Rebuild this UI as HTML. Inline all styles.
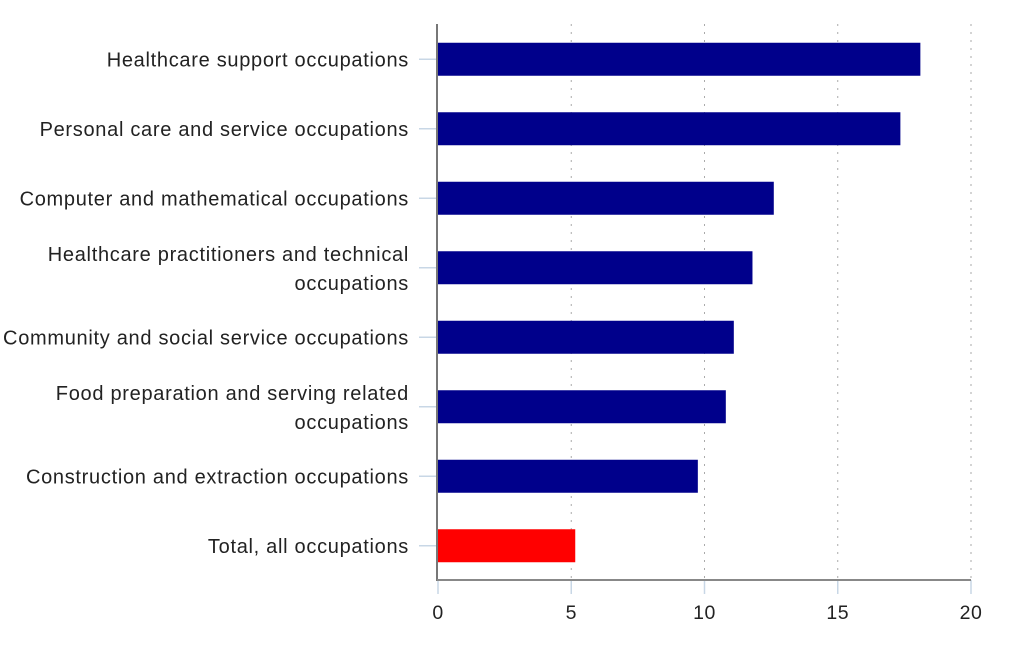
<!DOCTYPE html>
<html><head><meta charset="utf-8"><style>
body{margin:0;background:#fff;}
svg{display:block;font-family:"Liberation Sans",sans-serif;}
</style></head><body>
<svg id="chart" width="1028" height="657" xmlns="http://www.w3.org/2000/svg"></svg>
<script>
const categories=[["Healthcare support occupations"],["Personal care and service occupations"],["Computer and mathematical occupations"],["Healthcare practitioners and technical","occupations"],["Community and social service occupations"],["Food preparation and serving related","occupations"],["Construction and extraction occupations"],["Total, all occupations"]];
const values=[18.1,17.35,12.6,11.8,11.1,10.8,9.75,5.15];
const barColors=["#00008b","#00008b","#00008b","#00008b","#00008b","#00008b","#00008b","#ff0000"];
const ticks=[0,5,10,15,20];
const NS="http://www.w3.org/2000/svg";
const svg=document.getElementById('chart');
const x0=438,x1=971,yTop=24,yBot=580,band=(yBot-yTop)/categories.length;
const xs=v=>x0+(x1-x0)*v/20;
function mk(t,a,p){const e=document.createElementNS(NS,t);for(const k in a)e.setAttribute(k,a[k]);(p||svg).appendChild(e);return e;}
ticks.forEach(t=>{
 if(t>0){const g=mk('line',{x1:xs(t),x2:xs(t),y1:yTop,y2:yBot,stroke:'#aaa','stroke-dasharray':'2,6'});
 
 }
 const tk=mk('line',{x1:xs(t),x2:xs(t),y1:yBot,y2:yBot+14,stroke:'#c8d7e6','stroke-width':1.5});
 
 
 const l=mk('text',{x:xs(t),y:619,'text-anchor':'middle','font-size':19.5,fill:'#222','letter-spacing':'0.5'});l.textContent=t;
 
 
});
categories.forEach((c,i)=>{
 const cy=yTop+band*(i+0.5)+0.5;
 const tk=mk('line',{x1:419,x2:436,y1:cy,y2:cy,stroke:'#c8d7e6','stroke-width':1.5});
 
 
 const r=mk('rect',{x:x0,y:cy-16.5,width:xs(values[i])-x0,height:33,fill:barColors[i]});
 
 
 const t=mk('text',{x:409,'text-anchor':'end','font-size':20,fill:'#222','letter-spacing':'0.7'});
 
 
 const y0=c.length>1?cy-7:cy+7;
 c.forEach((s,j)=>{const ts=mk('tspan',{x:409,y:y0+j*29},t);ts.textContent=s;});
});
const ya=mk('line',{x1:437,x2:437,y1:yTop,y2:yBot+1,stroke:'#777','stroke-width':2});


const xa=mk('line',{x1:437,x2:x1,y1:yBot,y2:yBot,stroke:'#888','stroke-width':2});


</script>
</body></html>
